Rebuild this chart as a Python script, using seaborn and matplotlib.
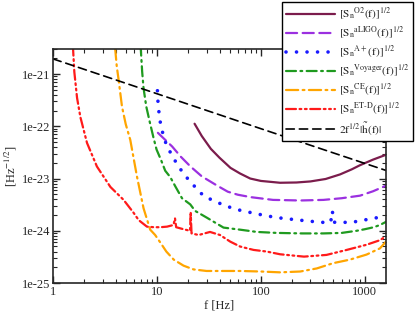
import numpy as np
import pandas as pd
import seaborn as sns
import matplotlib.pyplot as plt
import matplotlib.ticker as mticker

# noise curves
f_o2 = [23, 27, 33, 40, 51, 63, 79, 100, 153, 220, 300, 420, 579, 750, 900, 1200, 1600]
s_o2 = [1.12e-22, 6.5e-23, 3.7e-23, 2.5e-23, 1.6e-23, 1.25e-23, 1.0e-23, 9.0e-24, 8.3e-24,
        8.4e-24, 8.8e-24, 9.8e-24, 1.2e-23, 1.5e-23, 1.8e-23, 2.3e-23, 2.85e-23]

f_aligo = [10.2, 12, 14, 17, 21, 27, 38, 48, 60, 80, 131, 240, 400, 600, 900, 1200, 1600]
s_aligo = [7.5e-23, 5.5e-23, 4.1e-23, 2.6e-23, 1.7e-23, 1.1e-23, 7.3e-24, 5.6e-24, 4.9e-24,
           4.4e-24, 3.9e-24, 3.8e-24, 3.9e-24, 4.2e-24, 4.7e-24, 5.7e-24, 7.3e-24]

f_aplus = [10.1, 10.2, 10.4, 10.7, 11.2, 11.8, 12.9, 14.4, 18, 21.4, 24.8, 28.6, 35, 43.7,
           53.7, 66.4, 83, 104, 127, 159, 249, 311, 386, 470, 488, 500, 515, 600, 753, 936,
           1170, 1460, 1600]
s_aplus = [4.8e-22, 3.1e-22, 2.0e-22, 1.26e-22, 8.3e-23, 5.5e-23, 3.7e-23, 2.45e-23, 1.23e-23,
           8.3e-24, 6.0e-24, 4.5e-24, 3.8e-24, 3.1e-24, 2.7e-24, 2.4e-24, 2.2e-24, 2.0e-24,
           1.86e-24, 1.74e-24, 1.58e-24, 1.51e-24, 1.45e-24, 1.45e-24, 2.4e-24, 1.5e-24,
           1.45e-24, 1.45e-24, 1.45e-24, 1.58e-24, 1.7e-24, 1.86e-24, 1.95e-24]

f_voy = [6.95, 7.2, 7.42, 7.88, 8.5, 9.28, 9.9, 11, 12, 13.4, 15, 17.4, 20.9, 23.3, 30.2,
         43.7, 63, 91.5, 142, 250, 400, 600, 837, 1000, 1222, 1400, 1600]
s_voy = [3.5e-21, 1.1e-21, 5.4e-22, 2.4e-22, 1.23e-22, 5.9e-23, 3.6e-23, 2.2e-23, 1.41e-23,
         1.07e-23, 7.1e-24, 4.2e-24, 3.2e-24, 2.4e-24, 1.78e-24, 1.15e-24, 1.05e-24, 9.5e-25,
         9.1e-25, 8.9e-25, 8.9e-25, 9.1e-25, 1.0e-24, 1.07e-24, 1.17e-24, 1.29e-24, 1.48e-24]

f_ce = [3.95, 4.1, 4.27, 4.6, 5.0, 5.53, 6.41, 7.42, 8.6, 9.6, 10.8, 12.3, 14.5, 18, 22.5,
        30, 43.7, 63, 100, 153, 239, 345, 497, 718, 1040, 1400, 1600]
s_ce = [3.2e-21, 1.4e-21, 7.8e-22, 2.4e-22, 1.1e-22, 5.5e-23, 1.1e-23, 2.7e-24, 1.05e-24,
        8.3e-25, 5.9e-25, 4.0e-25, 2.8e-25, 2.15e-25, 1.82e-25, 1.7e-25, 1.7e-25, 1.7e-25,
        1.66e-25, 1.6e-25, 1.66e-25, 1.9e-25, 2.4e-25, 2.8e-25, 3.5e-25, 4.6e-25, 6.2e-25]

f_etd = [1.55, 1.6, 1.7, 1.83, 2.12, 2.64, 3.56, 4.77, 5.96, 6.66, 8.0, 9.3, 10.8,
         12.5, 14.4, 14.9, 15.3, 18, 20.8, 21.1, 21.5, 25.2, 32.4, 40.4, 50.7, 63, 85, 114,
         153, 260, 428, 670, 1040, 1400, 1600]
s_etd = [3.5e-21, 1.1e-21, 3.5e-22, 1.5e-22, 4.8e-23, 1.7e-23, 6.9e-24,
         3.9e-24, 2.2e-24, 1.6e-24, 1.2e-24, 1.17e-24, 1.17e-24, 1.2e-24, 1.29e-24, 1.74e-24,
         1.17e-24, 1.07e-24, 1.0e-24, 2.3e-24, 8.9e-25, 8.3e-25, 9.5e-25, 8.3e-25, 6.2e-25,
         5.0e-25, 4.3e-25, 4.0e-25, 3.55e-25, 3.2e-25, 3.45e-25, 4.3e-25, 5.4e-25, 6.6e-25,
         7.9e-25]

f_sig = [1, 10, 100, 1000, 1600]
s_sig = [1.95e-21, 4.2e-22, 9.0e-23, 1.95e-23, 1.43e-23]

sns.set_style("ticks")
plt.rcParams['font.family'] = ['Liberation Serif', 'DejaVu Serif']
plt.rcParams['mathtext.fontset'] = 'stix'
plt.rcParams['font.size'] = 9

fig = plt.figure(figsize=(4.15, 3.11), dpi=100)
ax = fig.add_axes([0.128, 0.090, 0.802, 0.752])

curves = [
    (f_o2, s_o2, '#7b1c4c', '-', r'$[\mathrm{S}_\mathrm{n}{}^{\mathrm{O2}}(\mathrm{f})]^{1/2}$', 1.6),
    (f_aligo, s_aligo, '#9b30e0', (0, (5, 2.5)), r'$[\mathrm{S}_\mathrm{n}{}^{\mathrm{aLIGO}}(\mathrm{f})]^{1/2}$', 1.6),
    (f_aplus, s_aplus, '#1a1aff', (0, (0.01, 2.9)), r'$[\mathrm{S}_\mathrm{n}{}^{\mathrm{A+}}(\mathrm{f})]^{1/2}$', 2.6),
    (f_voy, s_voy, '#1f9a1f', (0, (4.5, 2, 0.8, 2)), r'$[\mathrm{S}_\mathrm{n}{}^{\mathrm{Voyager}}(\mathrm{f})]^{1/2}$', 1.6),
    (f_ce, s_ce, '#ffa500', (0, (5.5, 2, 0.8, 2)), r'$[\mathrm{S}_\mathrm{n}{}^{\mathrm{CE}}(\mathrm{f})]^{1/2}$', 1.6),
    (f_etd, s_etd, '#ff1a1a', (0, (4.5, 1.6, 0.8, 1.6, 0.8, 1.6)), r'$[\mathrm{S}_\mathrm{n}{}^{\mathrm{ET\text{-}D}}(\mathrm{f})]^{1/2}$', 1.6),
    (f_sig, s_sig, 'black', (0, (5, 3)), r'$2\mathrm{f}^{1/2}|\tilde{\mathrm{h}}(\mathrm{f})|$', 1.2),
]

for fx, sy, col, ls, lab, lw in curves:
    df = pd.DataFrame({'f': fx, 'S': sy})
    sns.lineplot(data=df, x='f', y='S', ax=ax, color=col, linestyle=ls, linewidth=lw,
                 label=lab, estimator=None, sort=False, dash_capstyle='round')

ax.set_xscale('log')
ax.set_yscale('log')
ax.set_xlim(1, 1600)
ax.set_ylim(1e-25, 3e-21)

ax.xaxis.set_major_locator(mticker.FixedLocator([1, 10, 100, 1000]))
ax.xaxis.set_major_formatter(mticker.FixedFormatter(['1', '10', '100', '1000']))
ax.xaxis.set_minor_locator(mticker.LogLocator(base=10, subs=np.arange(2, 10)))
ax.xaxis.set_minor_formatter(mticker.NullFormatter())
ax.yaxis.set_major_locator(mticker.FixedLocator([1e-25, 1e-24, 1e-23, 1e-22, 1e-21]))
ax.yaxis.set_major_formatter(mticker.FixedFormatter(['1e-25', '1e-24', '1e-23', '1e-22', '1e-21']))
ax.yaxis.set_minor_locator(mticker.LogLocator(base=10, subs=np.arange(2, 10)))
ax.yaxis.set_minor_formatter(mticker.NullFormatter())

ax.tick_params(which='both', direction='in', top=True, right=True, labelsize=9, pad=2)
ax.tick_params(which='major', length=5, width=1)
ax.tick_params(which='minor', length=3, width=0.8)
for sp in ax.spines.values():
    sp.set_linewidth(1.2)

ax.set_xlabel('f [Hz]', fontsize=9, labelpad=1)
ax.set_ylabel(r'[Hz$^{-1/2}$]', fontsize=9, labelpad=2)

leg = ax.legend(loc='upper right', bbox_to_anchor=(0.996, 0.994), bbox_transform=fig.transFigure,
                frameon=True, fancybox=False, edgecolor='black', framealpha=1, fontsize=8.2,
                handlelength=4.3, borderpad=0.35, labelspacing=0.24, handletextpad=0.4,
                borderaxespad=0)
leg.get_frame().set_linewidth(1.0)

fig.savefig('out.png', dpi=100)
